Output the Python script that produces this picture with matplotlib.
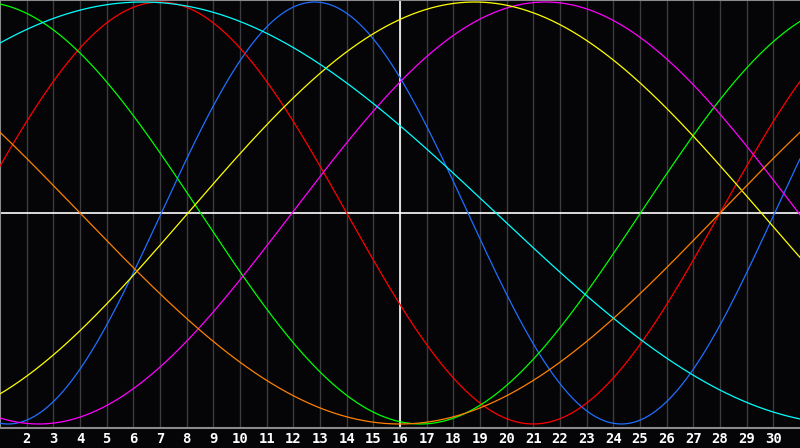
import numpy as np
import matplotlib
matplotlib.use("Agg")
import matplotlib.pyplot as plt

# Biorhythm cycles: cycle length (days) and the day of the month at which each cycle peaks
cycle_names = ["Physical", "Emotional", "Intellectual", "Intuitive", "Aesthetic", "Awareness", "Spiritual"]
cycle_periods = [23, 28, 33, 38, 43, 48, 53]
cycle_peak_days = [12.8, 7.0, 0.27, 21.45, 18.8, -8.0, 6.35]
cycle_colors = ["#1f6fff", "#ff0000", "#00ff00", "#ff00ff", "#ffff00", "#ff8000", "#00ffff"]

days = list(range(1, 32))
tick_days = list(range(2, 31))
tick_labels = [str(d) for d in tick_days]
today = 16

fig = plt.figure(figsize=(8.0, 4.48), dpi=100)
fig.patch.set_facecolor("#050508")
ax = fig.add_axes([0.0, (448 - 428) / 448, 1.0, 428 / 448])
ax.set_facecolor("#050508")

ax.set_xlim(days[0], days[-1])
ax.set_ylim(-1.019, 1.0095)

for d in tick_days:
    ax.axvline(d, color="#3c3c40", lw=1.0, zorder=1)

ax.axhline(0, color="white", lw=1.2, zorder=2)
ax.axvline(today, color="white", lw=1.2, zorder=2)

t = np.linspace(days[0], days[-1], 1200)
for P, pk, c in zip(cycle_periods, cycle_peak_days, cycle_colors):
    ax.plot(t, np.cos(2 * np.pi * (t - pk) / P), color=c, lw=0.9, zorder=3)

ax.set_xticks(tick_days)
ax.set_xticklabels(tick_labels)
ax.set_yticks([])
ax.tick_params(axis="x", length=0, pad=3, colors="white")
for lab in ax.get_xticklabels():
    lab.set_fontfamily("DejaVu Sans Mono")
    lab.set_fontweight("bold")
    lab.set_fontsize(10)
    lab.set_color("white")

for side in ["right"]:
    ax.spines[side].set_visible(False)
for side in ["left", "top", "bottom"]:
    ax.spines[side].set_color("#8a8a8a")
    ax.spines[side].set_linewidth(1.5)

fig.savefig("out.png", dpi=100, facecolor=fig.get_facecolor())
